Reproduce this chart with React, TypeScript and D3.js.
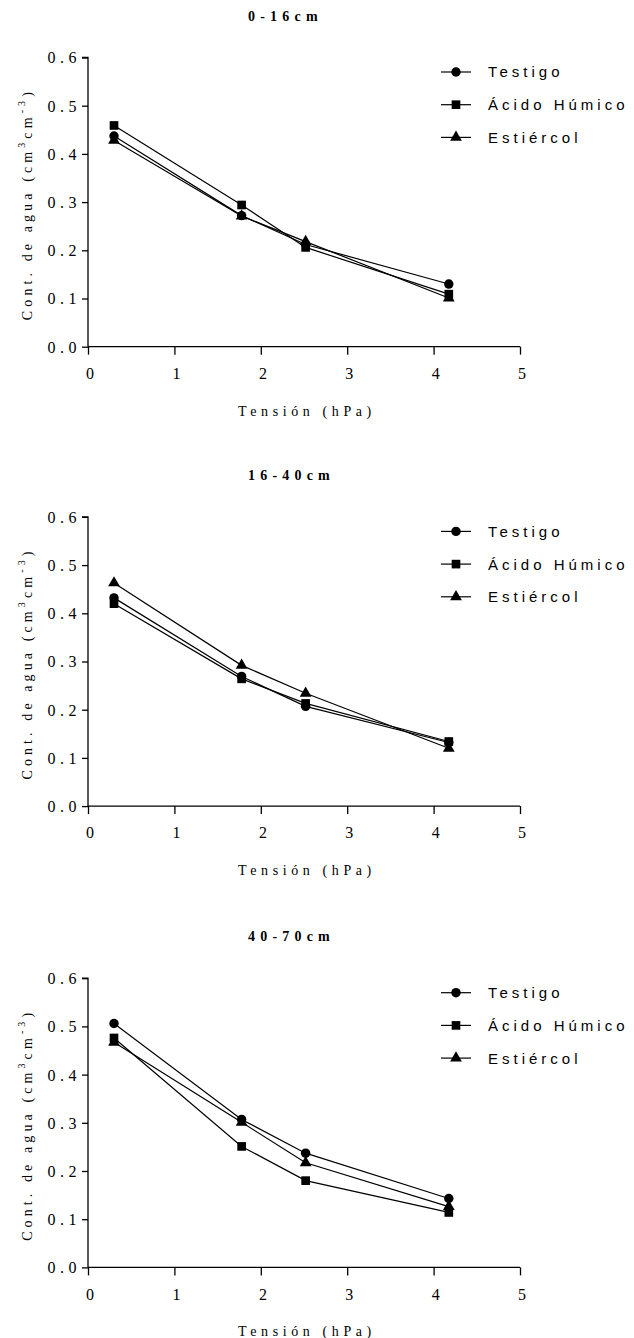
import React, { useEffect, useRef } from 'react';
import * as d3 from 'd3';

// log10 de la tensión (hPa)
const tension = [0.301, 1.778, 2.519, 4.176];
const layers = ['0-16cm', '16-40cm', '40-70cm'];
const seriesNames = ['Testigo', 'Ácido Húmico', 'Estiércol'];

// one row per soil layer
const testigo = [
  [0.437, 0.272, 0.212, 0.130],
  [0.432, 0.269, 0.207, 0.132],
  [0.506, 0.307, 0.237, 0.143],
];
const acidoHumico = [
  [0.459, 0.294, 0.206, 0.109],
  [0.420, 0.264, 0.213, 0.134],
  [0.476, 0.251, 0.180, 0.114],
];
const estiercol = [
  [0.428, 0.271, 0.218, 0.101],
  [0.463, 0.292, 0.234, 0.120],
  [0.467, 0.301, 0.217, 0.126],
];

const xTicks = [0, 1, 2, 3, 4, 5];
const yTicks = [0, 0.1, 0.2, 0.3, 0.4, 0.5, 0.6];

const App = () => {
  const ref = useRef<SVGSVGElement>(null);

  useEffect(() => {
    if (!ref.current) return;
    const svg = d3.select(ref.current);
    svg.selectAll('*').remove();

    const serif = '"Liberation Serif", Tinos, serif';
    const sans = '"Liberation Sans", Arimo, Arial, sans-serif';
    const offsets = [0, 459.4, 920.7];
    const x = d3.scaleLinear().domain([0, 5]).range([88, 520]);
    const allSeries = [testigo, acidoHumico, estiercol];
    const shapes = [d3.symbolCircle, d3.symbolSquare, d3.symbolTriangle];
    const sizes = [70, 75, 60];

    layers.forEach((layer, li) => {
      const off = offsets[li];
      const y = d3.scaleLinear().domain([0, 0.6]).range([346.7 + off, 57.5 + off]);
      const g = svg.append('g');

      // title
      g.append('text')
        .attr('x', 248)
        .attr('y', 20.5 + off)
        .attr('font-family', serif)
        .attr('font-weight', 'bold')
        .attr('font-size', 14)
        .attr('letter-spacing', 5.2)
        .attr('fill', '#000')
        .text(layer);

      // axes
      const yAxis = d3.axisLeft(y).tickValues(yTicks).tickSize(6).tickFormat(d3.format('.1f'));
      const xAxis = d3.axisBottom(x).tickValues(xTicks).tickSize(8).tickFormat(d3.format('d'));

      const ya = g.append('g').attr('transform', `translate(${x(0)},0)`).call(yAxis);
      const xa = g.append('g').attr('transform', `translate(0,${y(0)})`).call(xAxis);
      [ya, xa].forEach(a => {
        a.attr('font-family', serif);
        a.select('.domain').attr('stroke', '#000').attr('stroke-width', 1.3);
        a.selectAll('.tick line').attr('stroke', '#000').attr('stroke-width', 1.3);
        a.selectAll('.tick text')
          .attr('fill', '#000')
          .attr('font-family', serif)
          .attr('font-size', 16);
      });
      ya.select('.domain').attr('d', `M-6,${y(0.6)}H0V${y(0)}`);
      xa.select('.domain').attr('d', `M${x(0)},0H${x(5)}`);
      ya.selectAll('.tick text').attr('x', -7).attr('dy', '0.34em').attr('letter-spacing', 4.5);
      xa.selectAll('.tick text').attr('y', 21).attr('dx', '0.1em');

      // axis titles
      g.append('text')
        .attr('x', 307)
        .attr('y', y(0) + 69)
        .attr('text-anchor', 'middle')
        .attr('font-family', serif)
        .attr('font-size', 14)
        .attr('letter-spacing', 4.6)
        .attr('fill', '#000')
        .text('Tensión (hPa)');

      const yl = g.append('text')
        .attr('transform', `translate(32,${(y(0) + y(0.6)) / 2 + 2}) rotate(-90)`)
        .attr('text-anchor', 'middle')
        .attr('font-family', serif)
        .attr('font-size', 14)
        .attr('letter-spacing', 4.1)
        .attr('fill', '#000');
      yl.append('tspan').text('Cont. de agua (cm');
      yl.append('tspan').attr('dy', -7).attr('font-size', 10).text('3');
      yl.append('tspan').attr('dy', 7).text('cm');
      yl.append('tspan').attr('dy', -7).attr('font-size', 10).text('-3');
      yl.append('tspan').attr('dy', 7).text(')');

      // lines and markers
      const line = d3.line<number>()
        .x((_, i) => x(tension[i]))
        .y(d => y(d));

      allSeries.forEach((s, si) => {
        const vals = s[li];
        g.append('path')
          .datum(vals)
          .attr('fill', 'none')
          .attr('stroke', '#000')
          .attr('stroke-width', 1.2)
          .attr('d', line);
        g.selectAll(null)
          .data(vals)
          .enter()
          .append('path')
          .attr('transform', (d, i) => `translate(${x(tension[i])},${y(d)})`)
          .attr('d', d3.symbol().type(shapes[si]).size(sizes[si])())
          .attr('fill', '#000');
      });

      // legend
      seriesNames.forEach((name, si) => {
        const ly = 72 + off + si * 32.7;
        g.append('line')
          .attr('x1', 441).attr('x2', 471)
          .attr('y1', ly).attr('y2', ly)
          .attr('stroke', '#000').attr('stroke-width', 1.2);
        g.append('path')
          .attr('transform', `translate(456,${ly})`)
          .attr('d', d3.symbol().type(shapes[si]).size(sizes[si])())
          .attr('fill', '#000');
        g.append('text')
          .attr('x', 488)
          .attr('y', ly)
          .attr('dy', '0.36em')
          .attr('font-family', sans)
          .attr('font-size', 15)
          .attr('letter-spacing', 4)
          .attr('fill', '#000')
          .text(name);
      });
    });
  }, []);

  return (
    <svg
      ref={ref}
      width={634}
      height={1338}
      style={{ position: 'absolute', left: 0, top: 0, background: '#fff' }}
    />
  );
};

export default App;
